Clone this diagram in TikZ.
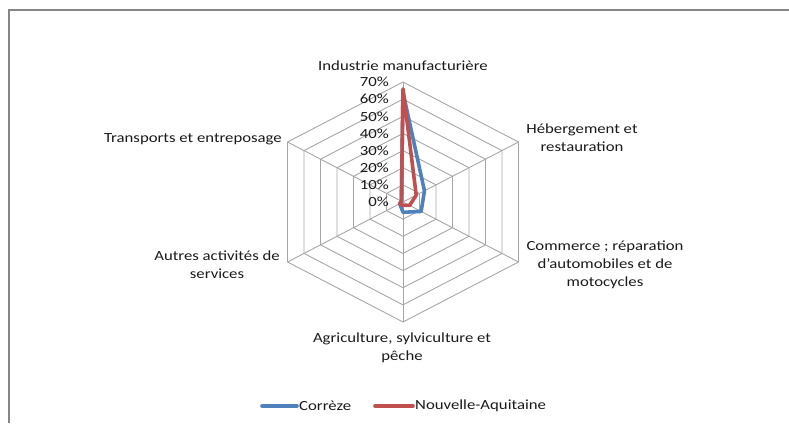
\documentclass[tikz,border=0pt]{standalone}
\usepackage{fontspec}
\setmainfont{Carlito}[FakeStretch=1.2]
\definecolor{gridc}{HTML}{A6A6A6}
\definecolor{framec}{HTML}{868686}
\definecolor{blueS}{HTML}{4F81BD}
\definecolor{redS}{HTML}{C0504D}
\definecolor{txt}{HTML}{1A1A1A}
\tikzset{
  lbl/.style={font=\fontsize{14}{18}\selectfont, text=txt, inner sep=0pt, align=center},
  pct/.style={font=\fontsize{14}{18}\selectfont, text=txt, inner sep=0pt, anchor=east},
  gridline/.style={draw=gridc, line width=0.9pt},
  serie/.style={line width=3.6pt, line join=round},
}
\begin{document}
\begin{tikzpicture}[x=1bp,y=1bp]
\useasboundingbox (0,0) rectangle (789,423);
% frame (top and left edges)
\coordinate (fTL) at (9,413);
\coordinate (fTR) at (789,413);
\coordinate (fBL) at (9,0);
\draw[framec, line width=1.4pt] (fBL) -- (fTL) -- (fTR);

\begin{scope}[shift={(403,221)}, x=1.905bp, y=1.714bp]
  \coordinate (C) at (0,0);
  % grid rings
  \foreach \k in {10,20,...,70}{
    \draw[gridline] (90:\k) -- (30:\k) -- (-30:\k) -- (-90:\k) -- (-150:\k) -- (150:\k) -- cycle;
  }
  % spokes
  \foreach \a in {90,30,-30,-90,-150,150}{
    \coordinate (S\a) at (\a:70);
    \draw[gridline] (C) -- (S\a);
  }
  % series
  \draw[serie, draw=blueS] (90:64) -- (30:13) -- (-30:11) -- (-90:6) -- (-150:2) -- (150:1) -- cycle;
  \draw[serie, draw=redS] (90:66) -- (30:8) -- (-30:4) -- (-90:2) -- (-150:2) -- (150:1) -- cycle;
\end{scope}

% percentage labels
\node[pct] (p0) at (389,221) {0\%};
\node[pct] (p10) at (389,238.1) {10\%};
\node[pct] (p20) at (389,255.3) {20\%};
\node[pct] (p30) at (389,272.4) {30\%};
\node[pct] (p40) at (389,289.6) {40\%};
\node[pct] (p50) at (389,306.7) {50\%};
\node[pct] (p60) at (389,323.9) {60\%};
\node[pct] (p70) at (389,341) {70\%};

% axis labels
\node[lbl] (l1) at (403,357) {Industrie manufacturière};
\node[lbl] (l2) at (582,285) {Hébergement et\\restauration};
\node[lbl] (l3) at (605,158) {Commerce ; réparation\\d'automobiles et de\\motocycles};
\node[lbl] (l4) at (402,75) {Agriculture, sylviculture et\\pêche};
\node[lbl] (l5) at (217,158) {Autres activités de\\services};
\node[lbl, anchor=east] (l6) at (282,284) {Transports et entreposage};

% legend
\coordinate (b1) at (262,17);
\coordinate (b2) at (297,17);
\coordinate (r1) at (375,17);
\coordinate (r2) at (413,17);
\draw[serie, draw=blueS, line cap=round] (b1) -- (b2);
\draw[serie, draw=redS, line cap=round] (r1) -- (r2);
\node[lbl, anchor=west] (lg1) at (299,17) {Corrèze};
\node[lbl, anchor=west] (lg2) at (415,17) {Nouvelle-Aquitaine};
\end{tikzpicture}
\end{document}
